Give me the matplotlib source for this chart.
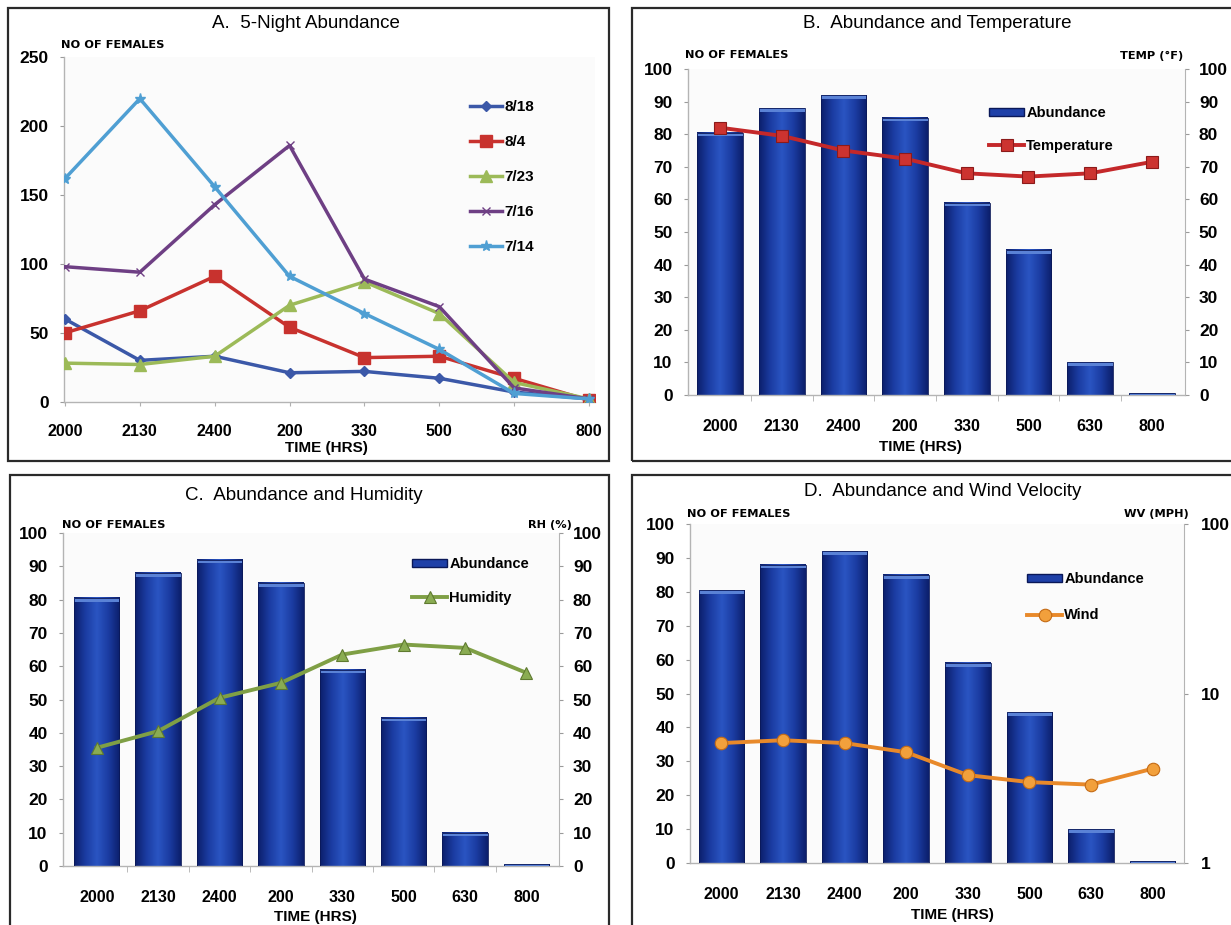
import numpy as np
import matplotlib.pyplot as plt
from matplotlib.colors import LinearSegmentedColormap
from matplotlib.patches import Rectangle, Patch

plt.rcParams['font.family'] = ['Liberation Sans', 'DejaVu Sans']

# sampling times (hours) and the five trap nights
times = ['2000', '2130', '2400', '200', '330', '500', '630', '800']
nights = ['8/18', '8/4', '7/23', '7/16', '7/14']

# females caught per night
females_818 = [60, 30, 33, 21, 22, 17, 7, 2]
females_804 = [50, 66, 91, 54, 32, 33, 17, 1]
females_723 = [28, 27, 33, 70, 87, 64, 14, 2]
females_716 = [98, 94, 143, 186, 89, 69, 10, 2]
females_714 = [162, 220, 156, 91, 64, 38, 6, 2]

# mean abundance and weather
abundance = [80.5, 88, 92, 85, 59, 44.5, 10, 0.5]
temperature = [82, 79.5, 75, 72.5, 68, 67, 68, 71.5]
humidity = [35.5, 40.5, 50.5, 55, 63.5, 66.5, 65.5, 58]
wind = [5.1, 5.3, 5.1, 4.5, 3.3, 3.0, 2.9, 3.6]

W, H = 1231, 925
fig = plt.figure(figsize=(W / 100, H / 100), dpi=100)
fig.patch.set_facecolor('white')

AXIS_GREY = '#b4b4b4'
BAR_W = 0.74
bar_cmap = LinearSegmentedColormap.from_list(
    'bar', ['#0c1f6c', '#1b3ca2', '#2a55c2', '#1b3ca2', '#0c1f6c'])


def px_axes(left, top, right, bottom):
    return fig.add_axes([left / W, 1 - bottom / H, (right - left) / W, (bottom - top) / H])


def fig_text(x, y, s, **kw):
    fig.text(x / W, 1 - y / H, s, **kw)


def frame(x0, y0, x1, y1):
    fig.add_artist(Rectangle((x0 / W, 1 - y1 / H), (x1 - x0) / W, (y1 - y0) / H,
                             transform=fig.transFigure, fill=False, lw=1.6,
                             ec='#2a2a2a', zorder=10))


def style_axes(ax, xpad):
    ax.set_facecolor('#fbfbfb')
    for s in ['top', 'right']:
        ax.spines[s].set_visible(False)
    for s in ['left', 'bottom']:
        ax.spines[s].set_color(AXIS_GREY)
        ax.spines[s].set_linewidth(1.0)
    ax.set_xticks(range(len(times)))
    ax.set_xticklabels(times, fontweight='bold', fontsize=11.5)
    ax.tick_params(axis='x', length=0, pad=xpad)
    ax.tick_params(axis='y', length=3, color='#9a9a9a', labelsize=12.5, pad=8)


def bold_yticks(ax):
    for lab in ax.get_yticklabels():
        lab.set_fontweight('bold')


def style_twin(ax, pad=7):
    ax.spines['right'].set_color(AXIS_GREY)
    for s in ['top', 'left', 'bottom']:
        ax.spines[s].set_visible(False)
    ax.tick_params(axis='y', which='both', length=3, color='#9a9a9a', labelsize=12.5, pad=pad)
    bold_yticks(ax)


def draw_bars(ax, values):
    x = np.arange(len(values))
    grad = np.linspace(0, 1, 120).reshape(1, -1)
    for xi, v in zip(x, values):
        ax.imshow(grad, cmap=bar_cmap, extent=(xi - BAR_W / 2, xi + BAR_W / 2, 0, v),
                  aspect='auto', zorder=2, interpolation='bilinear')
        cap = min(1.1, v)
        ax.bar(xi, cap, BAR_W, bottom=v - cap, color='#5a82d6', lw=0, zorder=3)
    ax.bar(x, values, BAR_W, fill=False, edgecolor='#0a1858', lw=0.6, zorder=3)
    ax.set_xticks(np.arange(0.5, len(values) - 1, 1), minor=True)
    ax.tick_params(axis='x', which='minor', length=4, color='#b0b0b0')


def add_legend(ax, handles, labels, x, y, spacing, size=10.5, hlen=2.4):
    ax.legend(handles, labels, loc='upper left', bbox_to_anchor=(x / W, 1 - y / H),
              bbox_transform=fig.transFigure, frameon=False, borderpad=0,
              borderaxespad=0, handlelength=hlen, handleheight=0.5,
              handletextpad=0.15, labelspacing=spacing,
              prop={'weight': 'bold', 'size': size})


# ---------------- A. 5-Night Abundance ----------------
axA = px_axes(64, 57.3, 595, 401.7)
style_axes(axA, xpad=13)
axA.tick_params(axis='x', length=3, color='#b0b0b0')
series = [
    (females_818, '#3b58a8', 'D', 5.5),
    (females_804, '#c8322e', 's', 9),
    (females_723, '#9cba58', '^', 8),
    (females_716, '#6e3f84', 'x', 6),
    (females_714, '#4f9fd3', '*', 8),
]
linesA = []
for (vals, col, mk, ms), name in zip(series, nights):
    ln, = axA.plot(range(len(times)), vals, color=col, lw=2.5, marker=mk, ms=ms,
                   mfc=col, mec=col, zorder=3)
    linesA.append(ln)
axA.set_xlim(-0.013, 7.08)
axA.set_ylim(0, 250)
axA.set_yticks(range(0, 251, 50))
bold_yticks(axA)
add_legend(axA, linesA, nights, 470, 100, 1.38, size=11, hlen=2.1)

# ---------------- B. Abundance and Temperature ----------------
axB = px_axes(688, 69, 1185, 395)
style_axes(axB, xpad=17)
draw_bars(axB, abundance)
axB.set_xlim(-0.52, 7.54)
axB.set_ylim(0, 100)
axB.set_yticks(range(0, 101, 10))
bold_yticks(axB)
twB = axB.twinx()
lnB, = twB.plot(range(len(times)), temperature, color='#c4282a', lw=2.8, marker='s',
                ms=9, mfc='#cc3330', mec='#8c1a1a', mew=0.8, zorder=4)
twB.set_ylim(0, 100)
twB.set_yticks(range(0, 101, 10))
style_twin(twB)
add_legend(twB, [Patch(fc='#1e40a8', ec='#0a1858'), lnB], ['Abundance', 'Temperature'],
           989, 106, 1.3)

# ---------------- C. Abundance and Humidity ----------------
axC = px_axes(63, 533, 559, 866)
style_axes(axC, xpad=17)
draw_bars(axC, abundance)
axC.set_xlim(-0.55, 7.53)
axC.set_ylim(0, 100)
axC.set_yticks(range(0, 101, 10))
bold_yticks(axC)
twC = axC.twinx()
lnC, = twC.plot(range(len(times)), humidity, color='#7f9f45', lw=2.8, marker='^',
                ms=8.5, mfc='#8aac52', mec='#5f7a30', mew=0.8, zorder=4)
twC.set_ylim(0, 100)
twC.set_yticks(range(0, 101, 10))
style_twin(twC)
add_legend(twC, [Patch(fc='#1e40a8', ec='#0a1858'), lnC], ['Abundance', 'Humidity'],
           412, 557, 1.35)

# ---------------- D. Abundance and Wind Velocity ----------------
axD = px_axes(690, 524, 1184, 863)
style_axes(axD, xpad=17)
draw_bars(axD, abundance)
axD.set_xlim(-0.51, 7.51)
axD.set_ylim(0, 100)
axD.set_yticks(range(0, 101, 10))
bold_yticks(axD)
twD = axD.twinx()
lnD, = twD.plot(range(len(times)), wind, color='#e8892a', lw=2.8, marker='o',
                ms=9, mfc='#f2a03c', mec='#c46a14', mew=0.8, zorder=4)
twD.set_yscale('log')
twD.set_ylim(1, 100)
twD.set_yticks([1, 10, 100])
twD.set_yticklabels(['1', '10', '100'])
twD.minorticks_off()
style_twin(twD, pad=9)
add_legend(twD, [Patch(fc='#1e40a8', ec='#0a1858'), lnD], ['Abundance', 'Wind'],
           1027, 572, 1.52)

# panel titles, axis captions, frames
title_kw = dict(fontsize=13.5, ha='center', va='center')
fig_text(306, 23, 'A.  5-Night Abundance', **title_kw)
fig_text(937, 24, 'B.  Abundance and Temperature', **title_kw)
fig_text(304, 495, 'C.  Abundance and Humidity', **title_kw)
fig_text(943, 492, 'D.  Abundance and Wind Velocity', **title_kw)

cap_kw = dict(fontsize=8.2, fontweight='bold', va='center', family='DejaVu Sans')
fig_text(61, 45, 'NO OF FEMALES', ha='left', **cap_kw)
fig_text(685, 55, 'NO OF FEMALES', ha='left', **cap_kw)
fig_text(62, 525, 'NO OF FEMALES', ha='left', **cap_kw)
fig_text(687, 514, 'NO OF FEMALES', ha='left', **cap_kw)
fig_text(1183, 56, 'TEMP (°F)', ha='right', **cap_kw)
fig_text(572, 525, 'RH (%)', ha='right', **cap_kw)
fig_text(1189, 514, 'WV (MPH)', ha='right', **cap_kw)

time_kw = dict(fontsize=11, fontweight='bold', ha='center', va='center')
fig_text(326, 448, 'TIME (HRS)', **time_kw)
fig_text(920, 447, 'TIME (HRS)', **time_kw)
fig_text(315, 917, 'TIME (HRS)', **time_kw)
fig_text(952, 915, 'TIME (HRS)', **time_kw)

frame(8, 8, 609, 461)
frame(632, 8, 1240, 461)
frame(10, 475, 609, 940)
frame(632, 475, 1240, 940)

fig.savefig('out.png', dpi=100)
